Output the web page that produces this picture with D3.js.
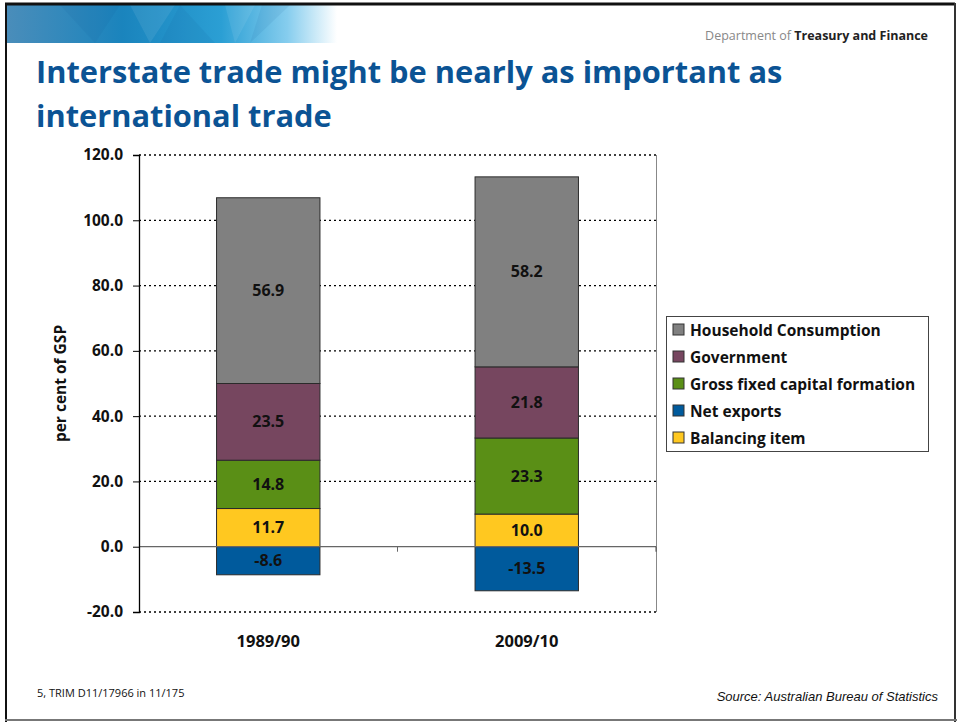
<!DOCTYPE html>
<html>
<head>
<meta charset="utf-8">
<script src="https://cdn.jsdelivr.net/npm/d3@7"></script>
<style>
  html, body { margin: 0; padding: 0; background: #fff; }
  svg { display: block; }
</style>
</head>
<body>
<svg id="chart" width="957" height="722"></svg>
<script>
// Composition of Gross State Product, per cent of GSP
const years = ["1989/90", "2009/10"];
const seriesNames = ["Household Consumption", "Government", "Gross fixed capital formation", "Net exports", "Balancing item"];
const householdConsumption = [56.9, 58.2];
const government = [23.5, 21.8];
const grossFixedCapital = [14.8, 23.3];
const netExports = [-8.6, -13.5];
const balancingItem = [11.7, 10.0];
const yTicks = [-20, 0, 20, 40, 60, 80, 100, 120];
const seriesColors = ["#808080", "#76465f", "#5a8f16", "#005a9c", "#ffc820"];

const svg = d3.select("#chart");
const W = 957, H = 722;
const font = "'Open Sans', Lato, sans-serif";

svg.append("rect").attr("x", 0).attr("y", 0).attr("width", W).attr("height", H).attr("fill", "#fff");

// Header banner gradient
const defs = svg.append("defs");
const bg = defs.append("linearGradient").attr("id", "bannerGrad").attr("x1", 0).attr("x2", 1).attr("y1", 0).attr("y2", 0);
bg.append("stop").attr("offset", "0%").attr("stop-color", "#4a8dba");
bg.append("stop").attr("offset", "35%").attr("stop-color", "#1a84bd");
bg.append("stop").attr("offset", "65%").attr("stop-color", "#2b9fd4");
bg.append("stop").attr("offset", "85%").attr("stop-color", "#86cdee");
bg.append("stop").attr("offset", "100%").attr("stop-color", "#ffffff");
svg.append("rect").attr("x", 7).attr("y", 5).attr("width", 330).attr("height", 38).attr("fill", "url(#bannerGrad)");
const facets = [
  [[60, 5], [120, 5], [95, 43]],
  [[130, 5], [175, 5], [150, 43]],
  [[180, 5], [215, 43], [160, 43]],
  [[225, 5], [255, 5], [235, 43]],
  [[262, 5], [290, 5], [250, 43]]
];
svg.append("g").selectAll("polygon").data(facets).join("polygon")
  .attr("points", d => d.map(p => p.join(",")).join(" "))
  .attr("fill", (d, i) => i % 2 ? "#ffffff" : "#0a4f86")
  .attr("opacity", 0.08);

// Border lines
svg.append("line").attr("x1", 5).attr("x2", W - 2).attr("y1", 4).attr("y2", 4).attr("stroke", "#111").attr("stroke-width", 3);
svg.append("line").attr("x1", 6).attr("x2", 6).attr("y1", 3).attr("y2", H).attr("stroke", "#111").attr("stroke-width", 2);
svg.append("line").attr("x1", W - 2).attr("x2", W - 2).attr("y1", 3).attr("y2", H).attr("stroke", "#333").attr("stroke-width", 2);
svg.append("line").attr("x1", 5).attr("x2", W).attr("y1", H - 2).attr("y2", H - 2).attr("stroke", "#777").attr("stroke-width", 2);

// Department name
const dept = svg.append("text").attr("x", 928).attr("y", 40).attr("text-anchor", "end")
  .attr("font-family", font).attr("font-size", 12.5);
dept.append("tspan").attr("fill", "#888").text("Department of ");
dept.append("tspan").attr("fill", "#222").attr("font-weight", "bold").text("Treasury and Finance");

// Title
const titleLines = ["Interstate trade might be nearly as important as", "international trade"];
svg.append("g").selectAll("text").data(titleLines).join("text")
  .attr("x", 36).attr("y", (d, i) => 83 + i * 44)
  .attr("font-family", font).attr("font-weight", "bold").attr("font-size", 30.8)
  .attr("fill", "#0b5394")
  .text(d => d);

// Plot area
const plot = { left: 139, right: 656, top: 155, bottom: 612 };
const x = d3.scaleBand().domain(years).range([plot.left, plot.right]).paddingInner(0.6).paddingOuter(0.3);
const y = d3.scaleLinear().domain([-20, 120]).range([plot.bottom, plot.top]);

// Dotted gridlines
svg.append("g").selectAll("line").data(yTicks.filter(t => t !== 0)).join("line")
  .attr("x1", plot.left).attr("x2", plot.right)
  .attr("y1", d => y(d)).attr("y2", d => y(d))
  .attr("stroke", "#000").attr("stroke-width", 1.3).attr("stroke-dasharray", "2,3");

// Right edge of plot area
svg.append("line").attr("x1", plot.right + 0.5).attr("x2", plot.right + 0.5).attr("y1", plot.top).attr("y2", plot.bottom)
  .attr("stroke", "#888").attr("stroke-width", 1);

// Stacked segments
const stacks = years.map((yr, i) => {
  const segs = [];
  let pos = 0;
  const positives = [
    { key: "Balancing item", v: balancingItem[i] },
    { key: "Gross fixed capital formation", v: grossFixedCapital[i] },
    { key: "Government", v: government[i] },
    { key: "Household Consumption", v: householdConsumption[i] }
  ];
  positives.forEach(p => { segs.push({ year: yr, key: p.key, v: p.v, y0: pos, y1: pos + p.v }); pos += p.v; });
  segs.push({ year: yr, key: "Net exports", v: netExports[i], y0: netExports[i], y1: 0 });
  return segs;
}).flat();
const color = d3.scaleOrdinal().domain(seriesNames).range(seriesColors);

svg.append("g").selectAll("rect").data(stacks).join("rect")
  .attr("x", d => x(d.year)).attr("width", x.bandwidth())
  .attr("y", d => y(d.y1)).attr("height", d => y(d.y0) - y(d.y1))
  .attr("fill", d => color(d.key))
  .attr("stroke", "#2a2a2a").attr("stroke-width", 1);

// Zero line
svg.append("line").attr("x1", plot.left).attr("x2", plot.right).attr("y1", y(0)).attr("y2", y(0))
  .attr("stroke", "#666").attr("stroke-width", 1.2);
svg.append("line").attr("x1", plot.left + (plot.right - plot.left) / 2).attr("x2", plot.left + (plot.right - plot.left) / 2)
  .attr("y1", y(0)).attr("y2", y(0) + 5).attr("stroke", "#666").attr("stroke-width", 1);
svg.append("line").attr("x1", plot.right).attr("x2", plot.right)
  .attr("y1", y(0)).attr("y2", y(0) + 5).attr("stroke", "#444").attr("stroke-width", 1);

const fmt = v => d3.format(".1f")(v).replace("\u2212", "-");

// Value labels
svg.append("g").selectAll("text").data(stacks).join("text")
  .attr("x", d => x(d.year) + x.bandwidth() / 2)
  .attr("y", d => y((d.y0 + d.y1) / 2) + 5.5)
  .attr("text-anchor", "middle")
  .attr("font-family", font).attr("font-weight", "bold").attr("font-size", 16)
  .attr("fill", "#111")
  .text(d => fmt(d.v));

// Y axis
const yAxis = svg.append("g").attr("transform", `translate(${plot.left},0)`)
  .call(d3.axisLeft(y).tickValues(yTicks).tickSize(6).tickPadding(10).tickFormat(fmt));
yAxis.select(".domain").attr("stroke", "#000").attr("stroke-width", 1.3);
yAxis.selectAll(".tick line").attr("stroke", "#000");
yAxis.selectAll(".tick text").attr("font-family", font).attr("font-weight", "bold").attr("font-size", 15.5).attr("fill", "#111");

// Y axis title
svg.append("text").attr("transform", `translate(66,${(plot.top + plot.bottom) / 2 + 0}) rotate(-90)`)
  .attr("text-anchor", "middle")
  .attr("font-family", font).attr("font-weight", "bold").attr("font-size", 15.5).attr("fill", "#111")
  .text("per cent of GSP");

// X labels
svg.append("g").selectAll("text").data(years).join("text")
  .attr("x", d => x(d) + x.bandwidth() / 2).attr("y", 647)
  .attr("text-anchor", "middle")
  .attr("font-family", font).attr("font-weight", "bold").attr("font-size", 16.5).attr("fill", "#111")
  .text(d => d);

// Legend
const lg = svg.append("g").attr("transform", "translate(666,316)");
lg.append("rect").attr("x", 0.5).attr("y", 0.5).attr("width", 262).attr("height", 135)
  .attr("fill", "#fff").attr("stroke", "#444").attr("stroke-width", 1);
const li = lg.selectAll("g.item").data(seriesNames).join("g").attr("class", "item")
  .attr("transform", (d, i) => `translate(7,${14 + i * 27})`);
li.append("rect").attr("x", 0).attr("y", -6).attr("width", 11).attr("height", 11)
  .attr("fill", d => color(d)).attr("stroke", "#333").attr("stroke-width", 1);
li.append("text").attr("x", 17).attr("y", 5.5)
  .attr("font-family", font).attr("font-weight", "bold").attr("font-size", 15.5).attr("fill", "#111")
  .text(d => d);

// Footer
svg.append("text").attr("x", 37).attr("y", 697)
  .attr("font-family", "'Liberation Sans Narrow', 'Open Sans', sans-serif").attr("font-size", 11).attr("fill", "#111")
  .text("5, TRIM D11/17966 in 11/175");
svg.append("text").attr("x", 938).attr("y", 701).attr("text-anchor", "end")
  .attr("font-family", "'Liberation Sans', Arial, sans-serif").attr("font-style", "italic").attr("font-size", 13).attr("fill", "#111")
  .text("Source: Australian Bureau of Statistics");
</script>
</body>
</html>
